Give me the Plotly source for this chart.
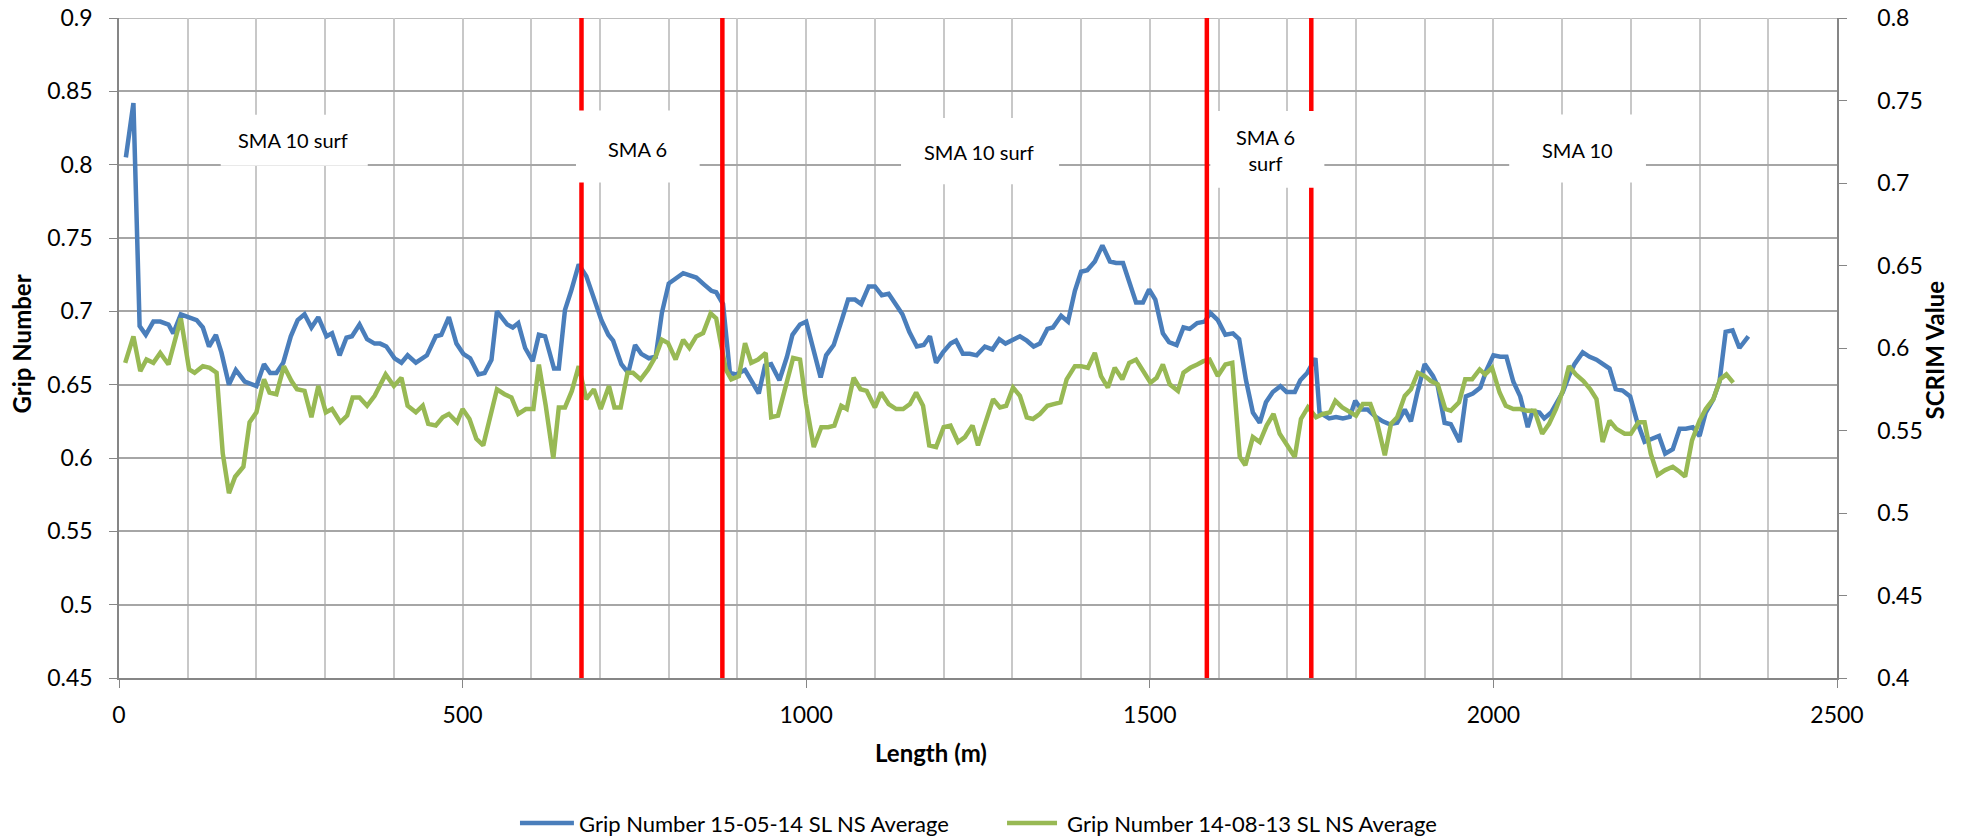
import plotly.graph_objects as go

# ---------------- data ----------------
blue_name = "Grip Number 15-05-14 SL NS Average"
blue_x = [10, 21, 30, 39, 50, 60, 72, 79, 90, 103, 113, 122, 131, 141, 149, 160, 170, 183, 193, 200,
          211, 220, 229, 239, 250, 260, 270, 280, 290, 302, 310, 321, 331, 339, 350, 361, 372, 380, 389, 401,
          411, 420, 432, 448, 461, 469, 480, 491, 501, 511, 523, 532, 542, 550, 565, 573, 581, 591, 602, 611,
          620, 633, 640, 649, 658, 669, 680, 692, 702, 712, 719, 731, 741, 751, 760, 771, 781, 790, 800, 821,
          840, 852, 862, 869, 879, 889, 898, 911, 920, 931, 940, 949, 961, 972, 980, 991, 1000, 1010, 1021, 1029,
          1040, 1051, 1061, 1071, 1080, 1091, 1100, 1110, 1120, 1130, 1140, 1150, 1161, 1171, 1180, 1189, 1199, 1210, 1218, 1228,
          1238, 1248, 1260, 1271, 1281, 1290, 1301, 1311, 1321, 1331, 1340, 1351, 1359, 1371, 1381, 1391, 1400, 1409, 1420, 1431,
          1442, 1451, 1461, 1471, 1480, 1490, 1499, 1508, 1519, 1528, 1539, 1549, 1558, 1569, 1580, 1588, 1599, 1610, 1621, 1630,
          1640, 1650, 1660, 1669, 1679, 1690, 1699, 1711, 1719, 1729, 1741, 1747, 1761, 1771, 1781, 1791, 1799, 1808, 1817, 1829,
          1839, 1849, 1860, 1871, 1880, 1889, 1900, 1912, 1919, 1929, 1938, 1951, 1960, 1970, 1981, 1990, 2000, 2010, 2019, 2029,
          2039, 2050, 2057, 2067, 2074, 2084, 2092, 2101, 2110, 2118, 2130, 2140, 2150, 2159, 2169, 2178, 2188, 2199, 2209, 2220,
          2231, 2241, 2250, 2261, 2271, 2280, 2290, 2300, 2309, 2320, 2329, 2338, 2348, 2358, 2371]
blue_y = [0.805, 0.842, 0.690, 0.684, 0.693, 0.693, 0.691, 0.685, 0.698, 0.696, 0.694, 0.689, 0.676, 0.684, 0.672, 0.650, 0.660, 0.652, 0.650, 0.649,
          0.664, 0.658, 0.658, 0.665, 0.683, 0.694, 0.698, 0.689, 0.696, 0.683, 0.685, 0.670, 0.682, 0.683, 0.691, 0.681, 0.678, 0.678, 0.676, 0.668,
          0.665, 0.670, 0.665, 0.670, 0.683, 0.684, 0.696, 0.678, 0.671, 0.668, 0.657, 0.658, 0.667, 0.700, 0.691, 0.689, 0.692, 0.675, 0.666, 0.684,
          0.683, 0.661, 0.661, 0.701, 0.714, 0.732, 0.724, 0.708, 0.694, 0.684, 0.680, 0.664, 0.658, 0.677, 0.671, 0.668, 0.669, 0.699, 0.719, 0.726,
          0.723, 0.718, 0.714, 0.713, 0.705, 0.658, 0.657, 0.660, 0.653, 0.644, 0.663, 0.664, 0.653, 0.669, 0.684, 0.691, 0.693, 0.674, 0.655, 0.670,
          0.677, 0.693, 0.708, 0.708, 0.705, 0.717, 0.717, 0.711, 0.712, 0.705, 0.698, 0.686, 0.676, 0.677, 0.683, 0.665, 0.672, 0.678, 0.680, 0.671,
          0.671, 0.670, 0.676, 0.674, 0.681, 0.678, 0.681, 0.683, 0.680, 0.676, 0.678, 0.688, 0.689, 0.697, 0.693, 0.714, 0.727, 0.728, 0.734, 0.745,
          0.734, 0.733, 0.733, 0.719, 0.706, 0.706, 0.715, 0.708, 0.685, 0.679, 0.677, 0.689, 0.688, 0.692, 0.693, 0.699, 0.694, 0.684, 0.685, 0.681,
          0.653, 0.631, 0.624, 0.638, 0.645, 0.649, 0.645, 0.645, 0.653, 0.658, 0.668, 0.631, 0.627, 0.628, 0.627, 0.628, 0.639, 0.633, 0.633, 0.628,
          0.625, 0.623, 0.624, 0.633, 0.625, 0.644, 0.664, 0.656, 0.649, 0.624, 0.623, 0.611, 0.642, 0.644, 0.648, 0.660, 0.670, 0.669, 0.669, 0.652,
          0.642, 0.621, 0.632, 0.631, 0.627, 0.631, 0.637, 0.645, 0.656, 0.664, 0.672, 0.669, 0.667, 0.664, 0.661, 0.647, 0.646, 0.642, 0.625, 0.611,
          0.613, 0.615, 0.603, 0.606, 0.620, 0.620, 0.621, 0.615, 0.631, 0.640, 0.652, 0.686, 0.687, 0.675, 0.683]

green_name = "Grip Number 14-08-13 SL NS Average"
green_x = [9, 21, 31, 40, 50, 60, 72, 90, 102, 110, 122, 132, 142, 151, 160, 169, 181, 190, 200, 211,
           219, 229, 240, 251, 259, 270, 280, 290, 301, 310, 322, 332, 340, 350, 361, 372, 388, 400, 411, 420,
           432, 442, 450, 461, 471, 480, 492, 500, 510, 520, 530, 540, 550, 561, 571, 581, 592, 603, 611, 621,
           632, 640, 649, 659, 669, 680, 691, 701, 713, 721, 730, 740, 748, 759, 770, 781, 790, 799, 810, 821,
           830, 840, 850, 861, 869, 883, 891, 902, 911, 920, 930, 941, 949, 959, 971, 981, 991, 1000, 1011, 1022,
           1032, 1041, 1051, 1059, 1069, 1079, 1088, 1100, 1109, 1120, 1131, 1141, 1151, 1160, 1170, 1179, 1189, 1200, 1210, 1221,
           1231, 1242, 1250, 1260, 1272, 1282, 1291, 1301, 1311, 1321, 1330, 1340, 1351, 1360, 1370, 1379, 1391, 1400, 1410, 1420,
           1429, 1439, 1449, 1460, 1470, 1480, 1491, 1501, 1510, 1519, 1529, 1541, 1549, 1559, 1569, 1578, 1587, 1599, 1610, 1620,
           1631, 1639, 1650, 1660, 1670, 1680, 1689, 1701, 1711, 1720, 1730, 1742, 1752, 1762, 1770, 1780, 1791, 1800, 1810, 1821,
           1830, 1842, 1851, 1860, 1871, 1880, 1890, 1900, 1909, 1919, 1930, 1938, 1950, 1959, 1969, 1980, 1988, 1998, 2009, 2018,
           2029, 2039, 2049, 2060, 2071, 2081, 2091, 2101, 2110, 2120, 2131, 2141, 2150, 2159, 2169, 2179, 2191, 2200, 2211, 2220,
           2229, 2239, 2250, 2261, 2271, 2279, 2289, 2300, 2309, 2320, 2330, 2339, 2349]
green_y = [0.591, 0.607, 0.586, 0.593, 0.591, 0.597, 0.590, 0.618, 0.587, 0.585, 0.589, 0.588, 0.585, 0.536, 0.512, 0.522, 0.528, 0.555, 0.561, 0.581,
           0.573, 0.572, 0.589, 0.580, 0.575, 0.574, 0.558, 0.577, 0.561, 0.563, 0.555, 0.559, 0.570, 0.570, 0.565, 0.571, 0.584, 0.577, 0.582, 0.565,
           0.561, 0.565, 0.554, 0.553, 0.558, 0.560, 0.555, 0.563, 0.557, 0.545, 0.541, 0.558, 0.575, 0.572, 0.570, 0.560, 0.563, 0.563, 0.590, 0.565,
           0.533, 0.564, 0.564, 0.574, 0.589, 0.569, 0.575, 0.563, 0.577, 0.564, 0.564, 0.585, 0.585, 0.581, 0.587, 0.595, 0.605, 0.603, 0.593, 0.605,
           0.600, 0.607, 0.609, 0.621, 0.618, 0.587, 0.581, 0.583, 0.603, 0.591, 0.593, 0.597, 0.558, 0.559, 0.577, 0.594, 0.593, 0.566, 0.540, 0.552,
           0.552, 0.553, 0.565, 0.563, 0.582, 0.575, 0.574, 0.564, 0.573, 0.566, 0.563, 0.563, 0.566, 0.573, 0.565, 0.541, 0.540, 0.552, 0.553, 0.543,
           0.546, 0.553, 0.541, 0.553, 0.569, 0.564, 0.565, 0.576, 0.571, 0.558, 0.557, 0.560, 0.565, 0.566, 0.567, 0.581, 0.589, 0.589, 0.588, 0.597,
           0.583, 0.576, 0.588, 0.581, 0.591, 0.593, 0.585, 0.579, 0.582, 0.590, 0.578, 0.574, 0.585, 0.588, 0.590, 0.592, 0.593, 0.583, 0.590, 0.591,
           0.534, 0.529, 0.546, 0.543, 0.553, 0.560, 0.548, 0.541, 0.534, 0.557, 0.564, 0.558, 0.560, 0.561, 0.568, 0.564, 0.561, 0.559, 0.566, 0.566,
           0.556, 0.535, 0.554, 0.558, 0.571, 0.575, 0.585, 0.583, 0.580, 0.578, 0.563, 0.562, 0.567, 0.581, 0.581, 0.587, 0.584, 0.588, 0.573, 0.565,
           0.563, 0.563, 0.562, 0.562, 0.548, 0.554, 0.563, 0.574, 0.589, 0.584, 0.580, 0.575, 0.569, 0.543, 0.556, 0.551, 0.548, 0.548, 0.555, 0.555,
           0.536, 0.523, 0.526, 0.528, 0.525, 0.522, 0.544, 0.556, 0.563, 0.569, 0.581, 0.584, 0.579]

# section boundaries (m) and section labels
section_bounds = [673, 878, 1583, 1735]
section_labels = ["SMA 10 surf", "SMA 6", "SMA 10 surf", "SMA 6<br>surf", "SMA 10"]
label_x = [253, 755, 1252, 1668, 2122]
label_y = [0.817, 0.811, 0.8085, 0.8097, 0.8102]
label_box_x = [(148, 362), (665, 845), (1138, 1368), (1588, 1754), (2023, 2222)]
label_box_y = [(0.7993, 0.8341), (0.7878, 0.8369), (0.7866, 0.8318), (0.7842, 0.8366), (0.7878, 0.8342)]

x_ticks = [0, 500, 1000, 1500, 2000, 2500]
y_ticks = [0.45, 0.5, 0.55, 0.6, 0.65, 0.7, 0.75, 0.8, 0.85, 0.9]
y_ticktext = ["0.45", "0.5", "0.55", "0.6", "0.65", "0.7", "0.75", "0.8", "0.85", "0.9"]
y2_ticks = [0.4, 0.45, 0.5, 0.55, 0.6, 0.65, 0.7, 0.75, 0.8]
y2_ticktext = ["0.4", "0.45", "0.5", "0.55", "0.6", "0.65", "0.7", "0.75", "0.8"]

# ---------------- style ----------------
BLUE = "#4A7EBB"
GREEN = "#98B954"
RED = "#FF0000"
FONT = "Lato"
AXIS_COL = "#868686"
HGRID = "#A6A6A6"
VGRID = "#C8C8C8"
EPS = 1e-6

fig = go.Figure()
fig.add_trace(go.Scatter(x=blue_x, y=blue_y, name=blue_name, mode="lines",
                         line=dict(color=BLUE, width=4.5), yaxis="y"))
fig.add_trace(go.Scatter(x=green_x, y=green_y, name=green_name, mode="lines",
                         line=dict(color=GREEN, width=4.5), yaxis="y2"))

shapes = []
# top gridline at 0.9 (edge of the plot area)
shapes.append(dict(type="line", xref="paper", yref="y", x0=0, x1=1, y0=0.9, y1=0.9,
                   line=dict(color=HGRID, width=1.5), layer="below"))
for xb in section_bounds:
    shapes.append(dict(type="line", xref="x", yref="y", x0=xb, x1=xb, y0=0.45, y1=0.9,
                       line=dict(color=RED, width=4.5), layer="above"))
for (bx0, bx1), (by0, by1) in zip(label_box_x, label_box_y):
    shapes.append(dict(type="rect", xref="x", yref="y", x0=bx0, x1=bx1, y0=by0, y1=by1,
                       fillcolor="white", line=dict(width=0), layer="above"))

# legend drawn below the plot
leg_y = -0.2197
shapes.append(dict(type="line", xref="paper", yref="paper", x0=0.2334, x1=0.2648, y0=leg_y, y1=leg_y,
                   line=dict(color=BLUE, width=4.5)))
shapes.append(dict(type="line", xref="paper", yref="paper", x0=0.5169, x1=0.5460, y0=leg_y, y1=leg_y,
                   line=dict(color=GREEN, width=4.5)))

annotations = []
for txt, lx, ly in zip(section_labels, label_x, label_y):
    annotations.append(dict(text=txt, x=lx, y=ly, xref="x", yref="y", showarrow=False,
                            xanchor="center", yanchor="middle",
                            font=dict(family=FONT, size=20, color="black")))
annotations += [
    dict(text="Grip Number", x=-0.0562, y=0.5061, xref="paper", yref="paper", showarrow=False,
         textangle=-90, xanchor="center", yanchor="middle",
         font=dict(family=FONT, size=24, color="black", weight="bold")),
    dict(text="SCRIM Value", x=1.0570, y=0.4977, xref="paper", yref="paper", showarrow=False,
         textangle=-90, xanchor="center", yanchor="middle",
         font=dict(family=FONT, size=24, color="black", weight="bold")),
    dict(text="Length (m)", x=0.4729, y=-0.1136, xref="paper", yref="paper", showarrow=False,
         xanchor="center", yanchor="middle",
         font=dict(family=FONT, size=24, color="black", weight="bold")),
    dict(text=blue_name, x=0.2666, y=leg_y, xref="paper", yref="paper", showarrow=False,
         xanchor="left", yanchor="middle", font=dict(family=FONT, size=22, color="black")),
    dict(text=green_name, x=0.5506, y=leg_y, xref="paper", yref="paper", showarrow=False,
         xanchor="left", yanchor="middle", font=dict(family=FONT, size=22, color="black")),
]

fig.update_layout(
    width=1964, height=840,
    margin=dict(l=119, r=127, t=18, b=162, pad=0, autoexpand=False),
    paper_bgcolor="white", plot_bgcolor="white",
    showlegend=False,
    font=dict(family=FONT, size=23, color="black"),
    xaxis=dict(range=[0, 2500 + EPS], tickvals=x_ticks, ticks="outside", ticklen=8, tickcolor=AXIS_COL,
               showline=True, linecolor=AXIS_COL, linewidth=1.5, zeroline=False,
               showgrid=True, gridcolor=VGRID, gridwidth=1.5,
               minor=dict(dtick=100, showgrid=True, gridcolor=VGRID, gridwidth=1.5, ticks=""),
               tickfont=dict(family=FONT, size=23, color="black"), ticklabelstandoff=8,
               ticklabeloverflow="allow", automargin=False),
    yaxis=dict(range=[0.45 - EPS, 0.9 + EPS], tickvals=y_ticks, ticktext=y_ticktext, ticks="outside", ticklen=8,
               tickcolor=AXIS_COL, showline=True, linecolor=AXIS_COL, linewidth=1.5, zeroline=False,
               showgrid=True, gridcolor=HGRID, gridwidth=1.5,
               tickfont=dict(family=FONT, size=23, color="black"), ticklabelstandoff=12,
               ticklabeloverflow="allow", automargin=False),
    yaxis2=dict(range=[0.4 - EPS, 0.8 + EPS], tickvals=y2_ticks, ticktext=y2_ticktext, overlaying="y", side="right",
                ticks="outside", ticklen=8, tickcolor=AXIS_COL, showline=True, linecolor=AXIS_COL,
                linewidth=1.5, zeroline=False, showgrid=False,
                tickfont=dict(family=FONT, size=23, color="black"), ticklabelstandoff=26,
                ticklabeloverflow="allow", automargin=False),
    shapes=shapes,
    annotations=annotations,
)

fig.write_html("out.html", config={"displayModeBar": False},
               post_script="document.body.style.margin='0';")
